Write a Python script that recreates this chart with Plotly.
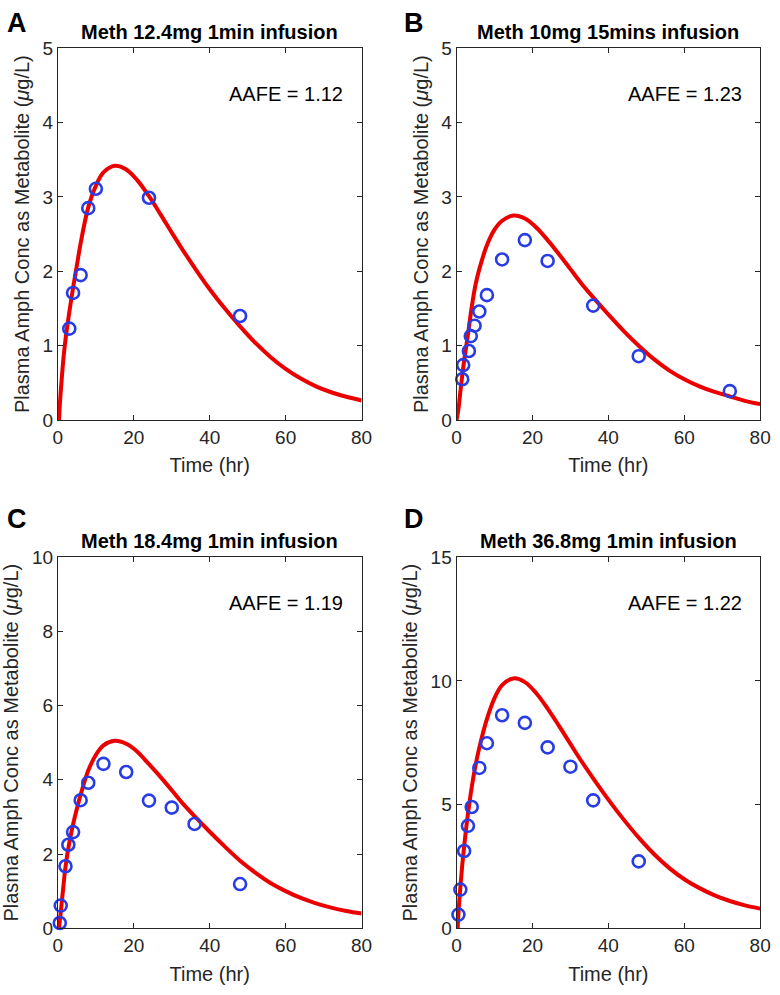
import plotly.graph_objects as go
from plotly.subplots import make_subplots

# observed data (blue circles)
a_obs_t = [3, 4, 6, 8, 10, 24, 48]
a_obs_c = [1.23, 1.71, 1.95, 2.85, 3.11, 2.99, 1.40]

b_obs_t = [1.5, 1.75, 3.25, 3.75, 4.75, 6, 8, 12, 18, 24, 36, 48, 72]
b_obs_c = [0.55, 0.74, 0.93, 1.13, 1.27, 1.46, 1.68, 2.16, 2.42, 2.14, 1.54, 0.86, 0.39]

c_obs_t = [0.5, 0.75, 2, 2.75, 4, 6, 8, 12, 18, 24, 30, 36, 48]
c_obs_c = [0.14, 0.61, 1.67, 2.25, 2.59, 3.45, 3.92, 4.43, 4.21, 3.44, 3.25, 2.81, 1.19]

d_obs_t = [0.5, 1, 2, 3, 4, 6, 8, 12, 18, 24, 30, 36, 48]
d_obs_c = [0.55, 1.56, 3.12, 4.14, 4.90, 6.48, 7.48, 8.61, 8.30, 7.31, 6.53, 5.17, 2.70]

# model predictions (red lines)
a_fit_t = [0.3, 0.5, 1, 1.5, 2, 3, 4, 5, 6, 8, 10, 12, 15, 18, 21, 24, 27, 30, 33, 36, 40, 44, 48, 52, 56, 60, 64, 68, 72, 76, 80]
a_fit_c = [0, 0.2, 0.55, 0.85, 1.08, 1.45, 1.78, 2.08, 2.38, 2.86, 3.15, 3.33, 3.42, 3.37, 3.22, 3.01, 2.77, 2.52, 2.28, 2.05, 1.76, 1.5, 1.26, 1.04, 0.85, 0.69, 0.56, 0.455, 0.375, 0.315, 0.265]

b_fit_t = [0, 0.5, 1, 1.5, 2, 3, 4, 5, 6, 8, 10, 12, 15, 18, 21, 24, 27, 30, 33, 36, 40, 44, 48, 52, 56, 60, 64, 68, 72, 76, 80]
b_fit_c = [0, 0.15, 0.38, 0.6, 0.8, 1.15, 1.52, 1.82, 2.03, 2.35, 2.56, 2.68, 2.75, 2.71, 2.59, 2.42, 2.23, 2.03, 1.83, 1.65, 1.42, 1.2, 1.0, 0.82, 0.67, 0.55, 0.455, 0.38, 0.32, 0.26, 0.215]

c_fit_t = [0.3, 0.5, 1, 1.5, 2, 3, 4, 5, 6, 8, 10, 12, 15, 18, 21, 24, 27, 30, 33, 36, 40, 44, 48, 52, 56, 60, 64, 68, 72, 76, 80]
c_fit_c = [0, 0.2, 0.68, 1.18, 1.65, 2.3, 2.8, 3.22, 3.6, 4.25, 4.67, 4.93, 5.05, 4.97, 4.75, 4.42, 4.08, 3.72, 3.35, 3.02, 2.6, 2.2, 1.82, 1.5, 1.22, 1.0, 0.815, 0.67, 0.555, 0.465, 0.395]

d_fit_t = [0.3, 0.5, 1, 1.5, 2, 2.5, 3, 4, 5, 6, 8, 10, 12, 15, 18, 21, 24, 27, 30, 33, 36, 40, 44, 48, 52, 56, 60, 64, 68, 72, 76, 80]
d_fit_c = [0, 0.6, 1.65, 2.55, 3.3, 4.0, 4.62, 5.7, 6.58, 7.3, 8.45, 9.3, 9.83, 10.1, 9.95, 9.5, 8.88, 8.18, 7.45, 6.73, 6.06, 5.2, 4.4, 3.66, 3.0, 2.44, 1.98, 1.62, 1.33, 1.1, 0.925, 0.79]

titles = ["Meth 12.4mg 1min infusion", "Meth 10mg 15mins infusion",
          "Meth 18.4mg 1min infusion", "Meth 36.8mg 1min infusion"]
letters = ["A", "B", "C", "D"]
aafe = ["AAFE = 1.12", "AAFE = 1.23", "AAFE = 1.19", "AAFE = 1.22"]
y_max = [5, 5, 10, 15]
y_step = [1, 1, 2, 5]

panels = [(a_obs_t, a_obs_c, a_fit_t, a_fit_c),
          (b_obs_t, b_obs_c, b_fit_t, b_fit_c),
          (c_obs_t, c_obs_c, c_fit_t, c_fit_c),
          (d_obs_t, d_obs_c, d_fit_t, d_fit_c)]

FONT = "Liberation Sans, Arial, sans-serif"
AX = "#262626"
W, H = 780, 995

# plot boxes in pixels (left, right, top, bottom)
boxes = [(54, 364, 39, 419), (461, 771, 39, 419),
         (54, 364, 559, 938), (461, 771, 559, 938)]

fig = make_subplots(rows=2, cols=2)

for i, (ot, oc, ft, fc) in enumerate(panels):
    r, c = i // 2 + 1, i % 2 + 1
    fig.add_trace(go.Scatter(x=ft, y=fc, mode="lines", line=dict(color="rgb(235,0,0)", width=4, shape="spline"),
                             showlegend=False, hoverinfo="skip"), row=r, col=c)
    fig.add_trace(go.Scatter(x=ot, y=oc, mode="markers", cliponaxis=False,
                             marker=dict(symbol="circle-open", size=12, color="rgb(40,60,230)",
                                         line=dict(width=2.6, color="rgb(40,60,230)")),
                             showlegend=False), row=r, col=c)

annotations = []
for i in range(4):
    l, rr, t, b = boxes[i]
    xa = "xaxis" if i == 0 else f"xaxis{i+1}"
    ya = "yaxis" if i == 0 else f"yaxis{i+1}"
    fig.layout[xa].update(
        domain=[l / W, rr / W], range=[0, 80], tickvals=[0, 20, 40, 60, 80],
        showline=True, linecolor=AX, linewidth=1, mirror="ticks", ticks="inside", ticklen=5,
        tickcolor=AX, showgrid=False, zeroline=False,
        tickfont=dict(family=FONT, size=19, color=AX),
        title=dict(text="Time (hr)", font=dict(family=FONT, size=20, color=AX), standoff=11))
    fig.layout[ya].update(
        domain=[1 - b / H, 1 - t / H], range=[0, y_max[i]], dtick=y_step[i],
        showline=True, linecolor=AX, linewidth=1, mirror="ticks", ticks="inside", ticklen=5,
        tickcolor=AX, showgrid=False, zeroline=False,
        tickfont=dict(family=FONT, size=19, color=AX),
        title=dict(text="Plasma Amph Conc as Metabolite (<i>μ</i>g/L)",
                   font=dict(family=FONT, size=20, color=AX), standoff=7))
    xr = "x" if i == 0 else f"x{i+1}"
    yr = "y" if i == 0 else f"y{i+1}"
    annotations.append(dict(text=aafe[i], xref=f"{xr} domain", yref=f"{yr} domain", x=0.947, y=0.876,
                            xanchor="right", yanchor="middle", showarrow=False,
                            font=dict(family=FONT, size=20, color="black")))
    annotations.append(dict(text="<b>" + titles[i] + "</b>", xref="paper", yref="paper",
                            x=(l + rr) / 2 / W, y=1 - (t - 17) / H, xanchor="center", yanchor="middle",
                            showarrow=False, font=dict(family=FONT, size=20, color="black")))
    annotations.append(dict(text="<b>" + letters[i] + "</b>", xref="paper", yref="paper",
                            x=(12 if i % 2 == 0 else 418) / W, y=1 - (13 if i < 2 else 520) / H,
                            xanchor="center", yanchor="middle", showarrow=False,
                            font=dict(family=FONT, size=27, color="black")))

fig.update_layout(width=W, height=H, margin=dict(l=0, r=0, t=0, b=0),
                  plot_bgcolor="white", paper_bgcolor="white",
                  annotations=annotations, font=dict(family=FONT))

# drop the default page margin so the figure fills the window
fig.write_html("out.html", config={"displayModeBar": False},
               post_script="document.body.style.margin='0';document.body.style.overflow='hidden';")
